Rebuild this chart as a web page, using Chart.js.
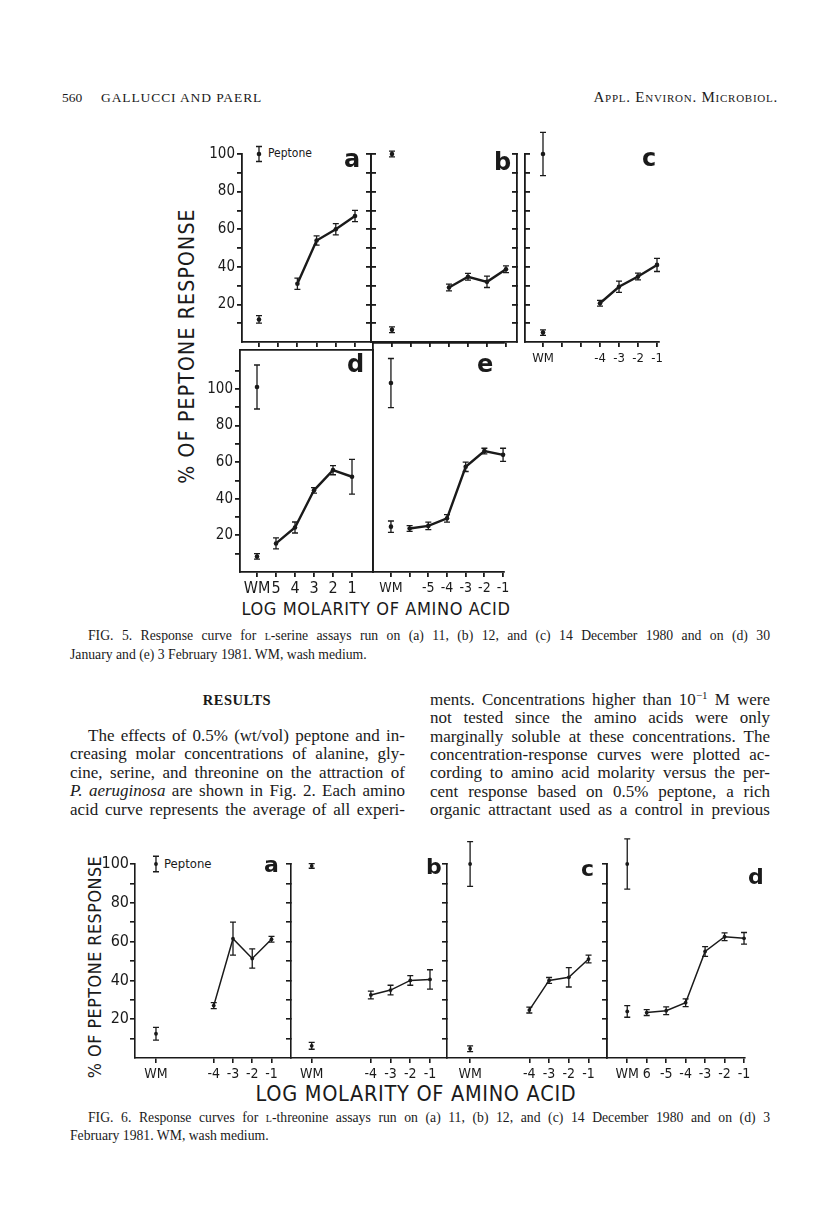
<!DOCTYPE html>
<html><head><meta charset="utf-8">
<script src="https://cdn.jsdelivr.net/npm/chart.js@4.4.1/dist/chart.umd.min.js"></script>
<style>
html,body{margin:0;padding:0;background:#fff;}
#page{position:relative;width:816px;height:1207px;overflow:hidden;background:#fff;color:#1a1a1a;}
canvas{position:absolute;}
.t{position:absolute;white-space:nowrap;line-height:1;}
.serif{font-family:'Liberation Serif','Times New Roman',serif;}
.sans{font-family:'DejaVu Sans Condensed','DejaVu Sans',sans-serif;}
.j{text-align:justify;text-align-last:justify;white-space:normal;}
.rot{transform:translate(-50%,-50%) rotate(-90deg);}
.ctr{transform:translate(-50%,-50%);}
.sc{font-variant:small-caps;}
sup{font-size:65%;line-height:0;vertical-align:0.55em;}
</style></head><body><div id="page">

<div class="t serif" style="left:62px;top:91px;font-size:13.5px;">560</div>
<div class="t serif" style="left:101px;top:91px;font-size:13.5px;letter-spacing:0.9px;">GALLUCCI AND PAERL</div>
<div class="t serif sc" style="right:38px;top:90px;font-size:15px;letter-spacing:0.75px;">Appl. Environ. Microbiol.</div>

<div class="t sans rot" style="left:187px;top:346px;font-size:21px;letter-spacing:1.2px;">% OF PEPTONE RESPONSE</div>
<div class="t sans ctr" style="left:376px;top:609px;font-size:18px;letter-spacing:0.6px;">LOG MOLARITY OF AMINO ACID</div>
<div class="t sans" style="left:268px;top:147px;font-size:12px;">Peptone</div>

<div class="t serif j" style="left:88px;top:629px;width:682px;font-size:13.7px;">FIG. 5. Response curve for <span class="sc">l</span>-serine assays run on (a) 11, (b) 12, and (c) 14 December 1980 and on (d) 30</div>
<div class="t serif" style="left:70px;top:648px;font-size:13.7px;">January and (e) 3 February 1981. WM, wash medium.</div>

<div class="t serif ctr" style="left:237px;top:700px;font-size:14.5px;font-weight:bold;letter-spacing:0.5px;">RESULTS</div>

<div class="t serif j" style="left:88px;top:727px;width:317px;font-size:17px;">The effects of 0.5% (wt/vol) peptone and in-</div>
<div class="t serif j" style="left:70px;top:745px;width:335px;font-size:17px;">creasing molar concentrations of alanine, gly-</div>
<div class="t serif j" style="left:70px;top:764px;width:335px;font-size:17px;">cine, serine, and threonine on the attraction of</div>
<div class="t serif j" style="left:70px;top:782px;width:335px;font-size:17px;"><i>P. aeruginosa</i> are shown in Fig. 2. Each amino</div>
<div class="t serif j" style="left:70px;top:801px;width:335px;font-size:17px;">acid curve represents the average of all experi-</div>

<div class="t serif j" style="left:430px;top:691px;width:340px;font-size:17px;">ments. Concentrations higher than 10<sup>−1</sup> M were</div>
<div class="t serif j" style="left:430px;top:709px;width:340px;font-size:17px;">not tested since the amino acids were only</div>
<div class="t serif j" style="left:430px;top:728px;width:340px;font-size:17px;">marginally soluble at these concentrations. The</div>
<div class="t serif j" style="left:430px;top:746px;width:340px;font-size:17px;">concentration-response curves were plotted ac-</div>
<div class="t serif j" style="left:430px;top:764px;width:340px;font-size:17px;">cording to amino acid molarity versus the per-</div>
<div class="t serif j" style="left:430px;top:783px;width:340px;font-size:17px;">cent response based on 0.5% peptone, a rich</div>
<div class="t serif j" style="left:430px;top:801px;width:340px;font-size:17px;">organic attractant used as a control in previous</div>

<div class="t sans rot" style="left:95px;top:967px;font-size:17.8px;letter-spacing:0.5px;">% OF PEPTONE RESPONSE</div>
<div class="t sans ctr" style="left:416px;top:1094px;font-size:21.5px;letter-spacing:0.7px;">LOG MOLARITY OF AMINO ACID</div>
<div class="t sans" style="left:164px;top:857px;font-size:13px;">Peptone</div>

<div class="t serif j" style="left:88px;top:1111px;width:682px;font-size:13.7px;">FIG. 6. Response curves for <span class="sc">l</span>-threonine assays run on (a) 11, (b) 12, and (c) 14 December 1980 and on (d) 3</div>
<div class="t serif" style="left:70px;top:1129px;font-size:13.7px;">February 1981. WM, wash medium.</div>

</div>
<script>
// ===================== DATA =====================
// y-axis ticks / labels (% of peptone response)
const Y_TICKS_100  = [10,20,30,40,50,60,70,80,90,100];
const Y_LABELS_100 = ['','20','','40','','60','','80','','100'];
const Y_TICKS_110  = [10,20,30,40,50,60,70,80,90,100,110];
const Y_LABELS_110 = ['','20','','40','','60','','80','','100',''];

// x positions (log molarity; WM = wash medium control)
const X_TICKS_6 = [-6,-5,-4,-3,-2,-1];
const X_TICKS_7 = [-7,-6,-5,-4,-3,-2,-1];
const X_TICKS_F6 = [-7,-4,-3,-2,-1];
const MOLARITY_4 = [-4,-3,-2,-1];
const MOLARITY_5 = [-5,-4,-3,-2,-1];
const MOLARITY_6 = [-6,-5,-4,-3,-2,-1];

// x tick labels
const F5C_XLABELS = ['WM','','','-4','-3','-2','-1'];
const F5D_XLABELS = ['WM','5','4','3','2','1'];
const F5E_XLABELS = ['WM','','-5','-4','-3','-2','-1'];
const F6_XLABELS  = ['WM','-4','-3','-2','-1'];
const F6D_XLABELS = ['WM','6','-5','-4','-3','-2','-1'];

// Fig. 5  L-serine   [mean, error]
const F5A_PEPTONE = [100, 4];   const F5A_WM = [12, 2];
const F5A_RESP = [31, 54, 60, 67];         const F5A_ERR = [3, 2.5, 3, 3];
const F5B_PEPTONE = [100, 1.5]; const F5B_WM = [6.5, 1.5];
const F5B_RESP = [29, 34.7, 32, 38.7];     const F5B_ERR = [1.8, 1.8, 3, 1.8];
const F5C_PEPTONE = [100, 11.5];const F5C_WM = [5, 1.5];
const F5C_RESP = [20.6, 29.4, 34.8, 41];   const F5C_ERR = [1.5, 3, 1.8, 3.5];
const F5D_PEPTONE = [101, 12];  const F5D_WM = [8.5, 1.5];
const F5D_RESP = [15.6, 24.3, 44.6, 55.6, 52]; const F5D_ERR = [3, 3, 1.5, 2.5, 9.5];
const F5E_PEPTONE = [100, 13];  const F5E_WM = [24, 3];
const F5E_RESP = [23, 24.4, 28.4, 55.7, 64, 62]; const F5E_ERR = [1.5, 2, 2, 2.5, 1.5, 3.5];

// Fig. 6  L-threonine
const F6A_PEPTONE = [100, 4];   const F6A_WM = [12.5, 3.3];
const F6A_RESP = [27, 61.5, 51.3, 61.2];   const F6A_ERR = [1.5, 8.5, 5, 1.5];
const F6B_PEPTONE = [99, 1.2];  const F6B_WM = [6.3, 1.8];
const F6B_RESP = [32.5, 35, 40, 40.5];     const F6B_ERR = [2, 2.5, 2.5, 5];
const F6C_PEPTONE = [100, 11.5];const F6C_WM = [4.8, 1.5];
const F6C_RESP = [24.7, 40, 41.6, 51];     const F6C_ERR = [1.5, 1.5, 5, 2];
const F6D_PEPTONE = [100, 13];  const F6D_WM = [24, 3];
const F6D_RESP = [23.4, 24.4, 28.5, 54.9, 62.5, 61.7]; const F6D_ERR = [1.5, 2, 2, 2.5, 2, 3];

// ===================== DRAWING =====================
const page = document.getElementById('page');
const INK = '#1a1a1a';
const FAM = "'DejaVu Sans Condensed','DejaVu Sans',sans-serif";

// keep justified single lines on one line
document.querySelectorAll('.j').forEach(el => {
  let fs = parseFloat(el.style.fontSize);
  while (el.getBoundingClientRect().height > fs * 1.5 && fs > 8) {
    fs -= 0.25; el.style.fontSize = fs + 'px';
  }
});

const errPlugin = {
  id: 'errbars',
  afterDatasetsDraw(chart) {
    const ctx = chart.ctx, xs = chart.scales.x, ys = chart.scales.y;
    chart.data.datasets.forEach(ds => {
      if (!ds.errs) return;
      ctx.save();
      ctx.strokeStyle = INK; ctx.lineWidth = ds.errLW;
      ds.data.forEach((p, i) => {
        const e = ds.errs[i]; if (!e) return;
        const px = xs.getPixelForValue(p.x);
        const y1 = ys.getPixelForValue(p.y + e), y2 = ys.getPixelForValue(p.y - e);
        const c = ds.capW;
        ctx.beginPath();
        ctx.moveTo(px, y1); ctx.lineTo(px, y2);
        ctx.moveTo(px - c, y1); ctx.lineTo(px + c, y1);
        ctx.moveTo(px - c, y2); ctx.lineTo(px + c, y2);
        ctx.stroke();
      });
      ctx.restore();
    });
  }
};

function axis(kind, position, mode, o) {
  const isX = kind === 'x';
  return {
    type: 'linear', axis: kind, position, min: o.min, max: o.max, bounds: 'data', display: true, offset: false,
    afterBuildTicks: s => { s.ticks = o.ticks.map(v => ({ value: v })); },
    afterFit: s => { if (isX) s.height = o.size; else s.width = o.size; },
    border: { display: mode !== 'none', color: INK, width: o.lw },
    grid: { display: mode === 'out' || mode === 'in', drawOnChartArea: false, drawTicks: true,
            tickLength: mode === 'in' ? -o.tick : o.tick, color: INK, tickColor: INK,
            lineWidth: o.lw, tickWidth: o.lw },
    ticks: { display: mode === 'out' && !!o.labels, autoSkip: false, maxRotation: 0, minRotation: 0,
             padding: o.pad || 2, color: INK, font: { family: FAM, size: o.fs || 14 },
             callback: (v, i) => (o.labels ? o.labels[i] : '') }
  };
}

function mkDS(xs, ys, errs, line, p) {
  return {
    data: xs.map((x, i) => ({ x, y: ys[i] })), errs,
    showLine: line, borderColor: INK, backgroundColor: INK, borderWidth: p.dlw,
    pointRadius: p.pr, pointBackgroundColor: INK, pointBorderWidth: 0, pointHoverRadius: p.pr,
    tension: 0, clip: false, errLW: p.elw, capW: p.cap, xAxisID: 'x', yAxisID: 'y'
  };
}

function panel(p) {
  const [L, T, R, B] = p.area; const [ml, mt, mr, mb] = p.margin;
  const w = R - L + ml + mr, h = B - T + mt + mb;
  const cv = document.createElement('canvas');
  cv.width = w; cv.height = h;
  Object.assign(cv.style, { left: (L - ml) + 'px', top: (T - mt) + 'px', width: w + 'px', height: h + 'px' });
  page.appendChild(cv);
  const yo = { min: p.ymin, max: p.ymax, ticks: p.yticks, lw: p.lw, tick: p.tick };
  const xo = { min: p.xmin, max: p.xmax, ticks: p.xticks, lw: p.lw, tick: p.tick };
  new Chart(cv, {
    type: 'line',
    data: { datasets: [
      mkDS([p.wmX], [p.pep[0]], [p.pep[1]], false, p),
      mkDS([p.wmX], [p.wm[0]], [p.wm[1]], false, p),
      mkDS(p.x, p.y, p.err, true, p)
    ] },
    options: {
      responsive: false, animation: false, events: [],
      layout: { padding: 0, autoPadding: false },
      plugins: { legend: { display: false }, tooltip: { enabled: false } },
      scales: {
        x:  axis('x', 'bottom', p.bottom, { ...xo, labels: p.xlabels, size: mb, fs: p.xfs, pad: p.xpad }),
        x2: axis('x', 'top', p.top, { ...xo, labels: null, size: mt }),
        y:  axis('y', 'left', p.left, { ...yo, labels: p.ylabels, size: ml, fs: p.yfs, pad: p.ypad }),
        y2: axis('y', 'right', p.right, { ...yo, labels: null, size: mr })
      }
    },
    plugins: [errPlugin]
  });
  if (p.letter) {
    const d = document.createElement('div');
    d.className = 't';
    d.textContent = p.letter[0];
    Object.assign(d.style, { left: p.letter[1] + 'px', top: p.letter[2] + 'px', fontSize: p.letter[3] + 'px', fontWeight: 'bold', fontFamily: "'DejaVu Sans',sans-serif" });
    page.appendChild(d);
  }
}

const F5 = { lw: 1.8, tick: 5, dlw: 2.4, pr: 2.3, elw: 1.3, cap: 3, yfs: 15, ypad: 2 };
const F6 = { lw: 1.6, tick: 5, dlw: 1.5, pr: 1.9, elw: 1.3, cap: 3, yfs: 16, ypad: 1 };

// ---- Figure 5 ----
panel({ ...F5, area: [242, 154, 371, 342], margin: [60, 30, 6, 14], xmin: -6.885, xmax: -0.167, ymin: 0, ymax: 100,
  xticks: X_TICKS_6, yticks: Y_TICKS_100, ylabels: Y_LABELS_100, xlabels: null,
  left: 'out', right: 'in', bottom: 'out', top: 'none',
  wmX: -6, pep: F5A_PEPTONE, wm: F5A_WM, x: MOLARITY_4, y: F5A_RESP, err: F5A_ERR, letter: ['a', 344, 147, 24] });
panel({ ...F5, area: [371, 154, 517, 342], margin: [6, 30, 6, 14], xmin: -8.105, xmax: -0.42, ymin: 0, ymax: 100,
  xticks: X_TICKS_7, yticks: Y_TICKS_100, ylabels: null, xlabels: null,
  left: 'in', right: 'in', bottom: 'out', top: 'none',
  wmX: -7, pep: F5B_PEPTONE, wm: F5B_WM, x: MOLARITY_4, y: F5B_RESP, err: F5B_ERR, letter: ['b', 494, 150, 24] });
panel({ ...F5, area: [525, 154, 659, 342], margin: [6, 30, 10, 30], xmin: -7.947, xmax: -0.895, ymin: 0, ymax: 100,
  xticks: X_TICKS_7, yticks: Y_TICKS_100, ylabels: null, xlabels: F5C_XLABELS, xfs: 13, xpad: 4,
  left: 'in', right: 'none', bottom: 'out', top: 'none',
  wmX: -7, pep: F5C_PEPTONE, wm: F5C_WM, x: MOLARITY_4, y: F5C_RESP, err: F5C_ERR, letter: ['c', 642, 146, 24] });
panel({ ...F5, area: [240, 343, 373, 572], margin: [60, 4, 4, 30], xmin: -6.895, xmax: 0.105, ymin: 0, ymax: 121.2,
  xticks: X_TICKS_6, yticks: Y_TICKS_110, ylabels: Y_LABELS_110, xlabels: F5D_XLABELS, xfs: 16, xpad: 2,
  left: 'out', right: 'line', bottom: 'out', top: 'line',
  wmX: -6, pep: F5D_PEPTONE, wm: F5D_WM, x: MOLARITY_5, y: F5D_RESP, err: F5D_ERR, letter: ['d', 347, 352, 24] });
panel({ ...F5, area: [373, 343, 504, 572], margin: [4, 4, 10, 30], xmin: -7.96, xmax: -0.95, ymin: 0, ymax: 121.2,
  xticks: X_TICKS_7, yticks: Y_TICKS_110, ylabels: null, xlabels: F5E_XLABELS, xfs: 14, xpad: 3,
  left: 'line', right: 'none', bottom: 'out', top: 'line',
  wmX: -7, pep: F5E_PEPTONE, wm: F5E_WM, x: MOLARITY_6, y: F5E_RESP, err: F5E_ERR, letter: ['e', 477, 352, 24] });

// ---- Figure 6 ----
panel({ ...F6, area: [135, 864, 291, 1058], margin: [50, 34, 6, 30], xmin: -8.09, xmax: 0.013, ymin: 0, ymax: 100,
  xticks: X_TICKS_F6, yticks: Y_TICKS_100, ylabels: Y_LABELS_100, xlabels: F6_XLABELS, xfs: 14, xpad: 3,
  left: 'out', right: 'in', bottom: 'out', top: 'none',
  wmX: -7, pep: F6A_PEPTONE, wm: F6A_WM, x: MOLARITY_4, y: F6A_RESP, err: F6A_ERR, letter: ['a', 264, 854, 22] });
panel({ ...F6, area: [291, 864, 447, 1058], margin: [4, 34, 6, 30], xmin: -8.05, xmax: -0.137, ymin: 0, ymax: 100,
  xticks: X_TICKS_F6, yticks: Y_TICKS_100, ylabels: null, xlabels: F6_XLABELS, xfs: 14, xpad: 3,
  left: 'none', right: 'in', bottom: 'out', top: 'none',
  wmX: -7, pep: F6B_PEPTONE, wm: F6B_WM, x: MOLARITY_4, y: F6B_RESP, err: F6B_ERR, letter: ['b', 426, 856, 22] });
panel({ ...F6, area: [447, 864, 607, 1058], margin: [4, 34, 6, 30], xmin: -8.17, xmax: -0.066, ymin: 0, ymax: 100,
  xticks: X_TICKS_F6, yticks: Y_TICKS_100, ylabels: null, xlabels: F6_XLABELS, xfs: 14, xpad: 3,
  left: 'none', right: 'in', bottom: 'out', top: 'none',
  wmX: -7, pep: F6C_PEPTONE, wm: F6C_WM, x: MOLARITY_4, y: F6C_RESP, err: F6C_ERR, letter: ['c', 581, 858, 22] });
panel({ ...F6, area: [607, 864, 745, 1058], margin: [4, 34, 12, 30], xmin: -8.04, xmax: -0.95, ymin: 0, ymax: 100,
  xticks: X_TICKS_7, yticks: Y_TICKS_100, ylabels: null, xlabels: F6D_XLABELS, xfs: 14, xpad: 3,
  left: 'line', right: 'none', bottom: 'out', top: 'none',
  wmX: -7, pep: F6D_PEPTONE, wm: F6D_WM, x: MOLARITY_6, y: F6D_RESP, err: F6D_ERR, letter: ['d', 748, 866, 22] });
</script>
</body></html>
